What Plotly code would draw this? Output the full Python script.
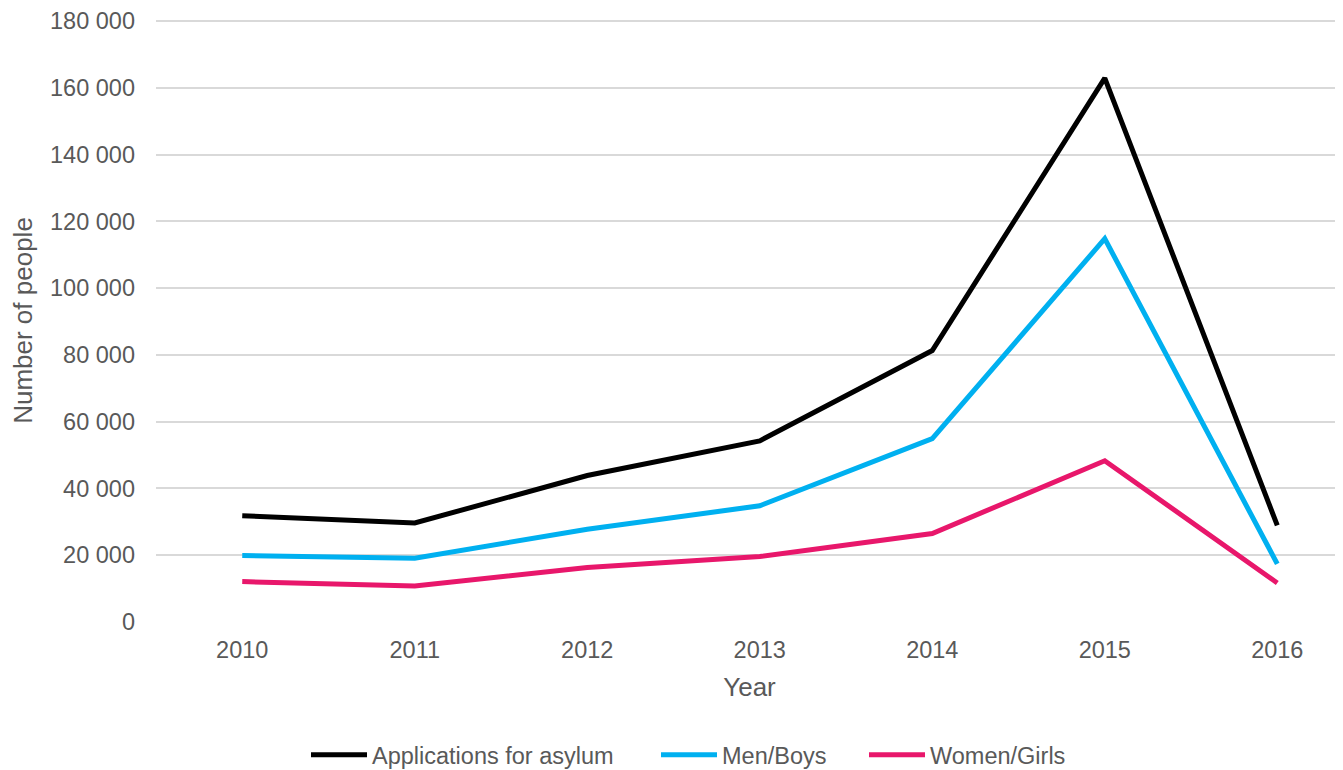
import plotly.graph_objects as go

years = [2010, 2011, 2012, 2013, 2014, 2015, 2016]
year_labels = ["2010", "2011", "2012", "2013", "2014", "2015", "2016"]
y_ticks = [0, 20000, 40000, 60000, 80000, 100000, 120000, 140000, 160000, 180000]
applications = [31819, 29648, 43887, 54259, 81301, 162877, 28939]
men_boys = [19900, 19100, 27800, 34800, 54900, 114800, 17400]
women_girls = [12100, 10800, 16300, 19600, 26500, 48300, 11700]

series = [
    ("Applications for asylum", applications, "#000000", "legend"),
    ("Men/Boys", men_boys, "#00b0f0", "legend2"),
    ("Women/Girls", women_girls, "#e8176b", "legend3"),
]

fig = go.Figure()
for name, vals, col, lg in series:
    fig.add_trace(go.Scatter(
        x=years, y=vals, name=name, mode="lines",
        line=dict(color=col, width=5), legend=lg,
    ))

font_col = "#595959"
W, H = 1335, 762

def leg(xpx):
    return dict(
        orientation="h", xref="container", yref="container",
        x=xpx / W, xanchor="left", y=15 / H, yanchor="middle",
        font=dict(size=23.5, color=font_col), itemwidth=56,
        bgcolor="rgba(0,0,0,0)", borderwidth=0,
    )

fig.update_layout(
    width=W, height=H,
    margin=dict(l=148, r=0, t=9, b=148),
    paper_bgcolor="white", plot_bgcolor="white",
    font=dict(family="Liberation Sans, Arial, sans-serif", color=font_col, size=23.5),
    separators=". ",
    showlegend=True,
    legend=leg(298),
    legend2=leg(648),
    legend3=leg(856),
    xaxis=dict(
        tickmode="array", tickvals=years, ticktext=year_labels,
        range=[2009.5, 2016.381], showgrid=False, zeroline=False,
        showline=False, ticks="", ticklabelstandoff=11,
        tickfont=dict(size=23.5, color=font_col),
        title=dict(text="Year", font=dict(size=26, color=font_col), standoff=16),
    ),
    yaxis=dict(
        range=[0, 180600], tickmode="array", tickvals=y_ticks, tickformat=",d",
        showgrid=True, gridcolor="#d9d9d9", gridwidth=1.5,
        zeroline=False, showline=False, ticks="", ticklabelstandoff=20,
        ticklabeloverflow="allow",
        tickfont=dict(size=23.5, color=font_col),
        title=dict(text="Number of people", font=dict(size=26, color=font_col), standoff=14),
    ),
)

fig.write_html("out.html")
